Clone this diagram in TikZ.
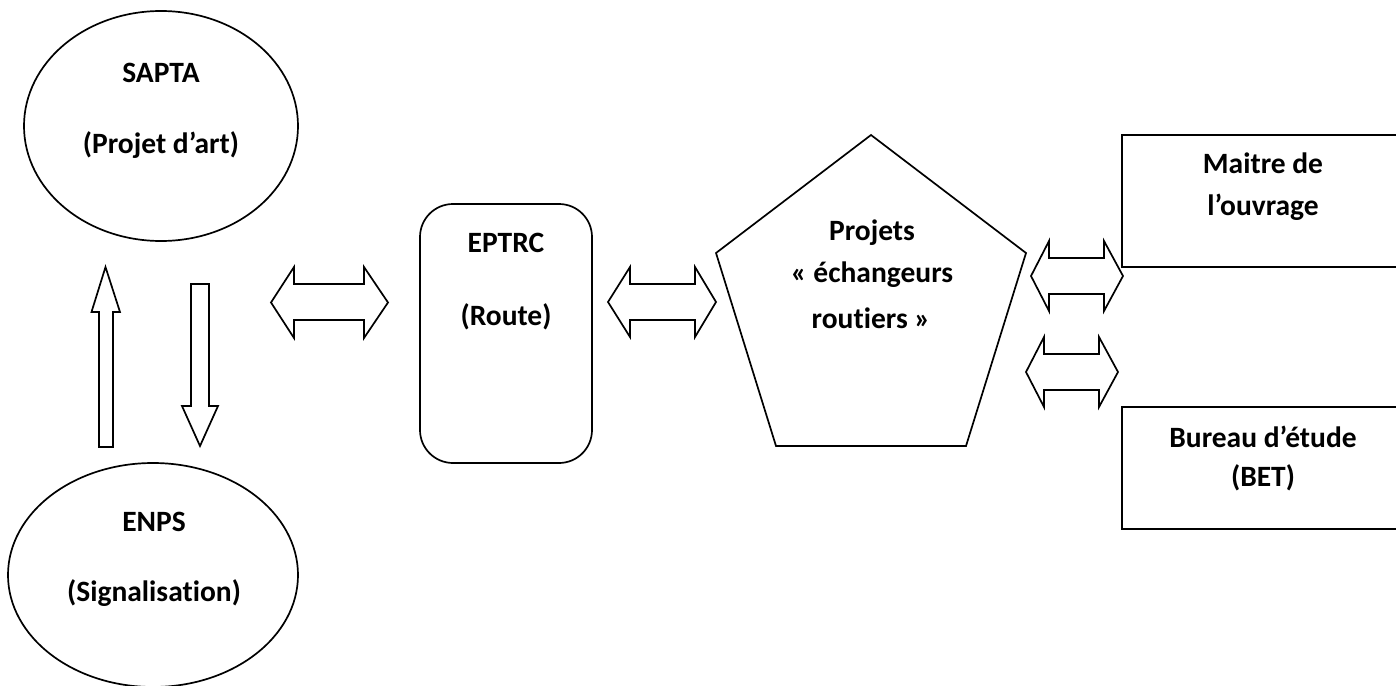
\documentclass[tikz,border=0pt]{standalone}
\usepackage{fontspec}
\setmainfont[Ligatures=NoCommon]{Carlito}
\usetikzlibrary{shapes.geometric}
\tikzset{
  outline/.style={draw=black, line width=1.7pt, fill=white},
  lbl/.style={font=\bfseries\fontsize{29.5}{34}\selectfont, inner sep=0pt, anchor=center},
  blockarrow/.style={draw=black, line width=1.7pt, fill=white, line join=miter},
}
\newcommand{\dblarrow}[7]{% xl xlb xrb xr ytop yst ybot
  \draw[blockarrow] (#1,{(#5+#7)/2}) -- (#2,#5) -- (#2,#6) -- (#3,#6) -- (#3,#5) -- (#4,{(#5+#7)/2}) -- (#3,#7)
  -- (#3,{#6+36}) -- (#2,{#6+36}) -- (#2,#7) -- cycle;}
\begin{document}
\begin{tikzpicture}[x=1pt,y=-1pt]
\useasboundingbox (0,0) rectangle (1396,685);
\clip (0,0) rectangle (1396,685);
% ellipses
\draw[outline] (161,126) ellipse [x radius=137, y radius=115];
\node[lbl] (sapta) at (161,73) {SAPTA};
\node[lbl] (saptab) at (161,145) {(Projet d’art)};
\draw[outline] (153,575) ellipse [x radius=145, y radius=112];
\node[lbl] (enps) at (154,522) {ENPS};
\node[lbl] (enpsb) at (154,593) {(Signalisation)};
% EPTRC
\draw[outline, rounded corners=33pt] (420,204) rectangle (592,463);
\node[lbl] (eptrc) at (506,243) {EPTRC};
\node[lbl] (route) at (506,317) {(Route)};
% pentagon
\draw[outline, line join=miter] (871,135) -- (1026,253) -- (966,446) -- (776,446) -- (716,253) -- cycle;
\node[lbl] (proj1) at (872,233) {Projets};
\node[lbl] (proj2) at (872,275) {« échangeurs};
\node[lbl] (proj3) at (871,318) {routiers »};
% rectangles
\draw[outline] (1122,135) rectangle (1420,267);
\node[lbl] (mo1) at (1263,163) {Maitre de};
\node[lbl] (mo2) at (1263,207) {l’ouvrage};
\draw[outline] (1122,407) rectangle (1420,529);
\node[lbl] (bet1) at (1263,437) {Bureau d’étude};
\node[lbl] (bet2) at (1263,478) {(BET)};
% vertical arrows
\draw[blockarrow] (105.5,267) -- (120,312) -- (113,312) -- (113,447) -- (99,447) -- (99,312) -- (91.5,312) -- cycle;
\draw[blockarrow] (191,284) -- (209,284) -- (209,406) -- (218,406) -- (200,446) -- (182,406) -- (191,406) -- cycle;
% double arrows
\dblarrow{271}{294}{364}{388}{267}{284}{338}
\dblarrow{608}{630}{695}{716}{267}{284}{337}
\dblarrow{1031}{1049}{1104}{1123}{241}{258}{311}
\dblarrow{1026}{1044}{1099}{1118}{337}{354}{407}
\end{tikzpicture}
\end{document}
